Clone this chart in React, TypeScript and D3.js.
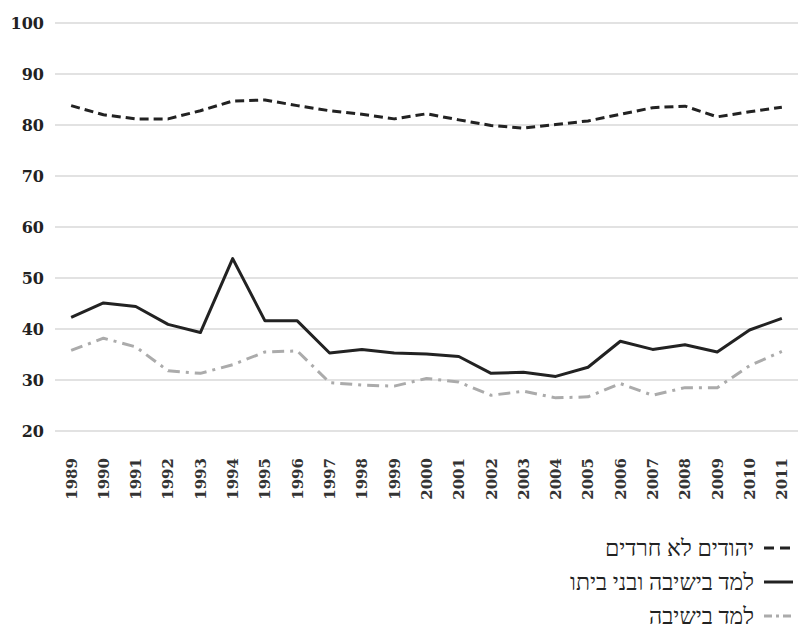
import React from "react";
import * as d3 from "d3";

const years = ["1989","1990","1991","1992","1993","1994","1995","1996","1997","1998","1999","2000","2001","2002","2003","2004","2005","2006","2007","2008","2009","2010","2011"];
const nonHaredi = [83.8,82.0,81.2,81.2,82.8,84.7,84.9,83.8,82.8,82.1,81.2,82.2,81.0,79.9,79.4,80.1,80.8,82.1,83.4,83.7,81.6,82.6,83.5];
const yeshivaAndHome = [42.3,45.1,44.4,40.9,39.3,53.8,41.6,41.6,35.3,36.0,35.3,35.1,34.6,31.3,31.5,30.7,32.5,37.6,36.0,36.9,35.5,39.8,42.1];
const yeshiva = [35.8,38.2,36.5,31.8,31.3,33.0,35.5,35.7,29.5,29.0,28.8,30.3,29.6,27.0,27.8,26.5,26.7,29.3,27.0,28.5,28.5,32.8,35.6];
const yTicks = [20,30,40,50,60,70,80,90,100];
const seriesNames = ["יהודים לא חרדים","למד בישיבה ובני ביתו","למד בישיבה"];

const W = 798, H = 632;
const NUMFONT = "'DejaVu Serif', serif";
const FONT = "'Liberation Serif', 'Times New Roman', serif";

export default function App() {
  const x = d3.scaleBand<string>().domain(years).range([55, 798]);
  const y = d3.scaleLinear().domain([20, 100]).range([431, 23]);
  const cx = (i: number) => (x(years[i]) as number) + x.bandwidth() / 2;
  const line = d3.line<number>().x((_, i) => cx(i)).y(d => y(d));

  const series = [
    { data: nonHaredi, color: "#222", dash: "9,5", width: 3 },
    { data: yeshivaAndHome, color: "#222", dash: undefined, width: 3 },
    { data: yeshiva, color: "#ababab", dash: "12,6,3,6", width: 3 },
  ];
  const legendY = [548, 582, 616];

  return (
    <svg width={W} height={H} style={{ position: "absolute", left: 0, top: 0 }} fontFamily={FONT}>
      <rect width={W} height={H} fill="#fff" />
      {yTicks.map(t => (
        <g key={t}>
          <line x1={55} x2={798} y1={y(t)} y2={y(t)} stroke="#d9d9d9" strokeWidth={1.3} />
          <text x={44} y={y(t)} dy="0.36em" textAnchor="end" fontFamily={NUMFONT} fontSize={16} fontWeight="bold" fill="#222">{t}</text>
        </g>
      ))}
      {years.map((yr, i) => (
        <text key={yr} transform={`translate(${cx(i)},458) rotate(-90)`} dy="0.36em" textAnchor="end" fontFamily={NUMFONT} fontSize={15} fontWeight="bold" fill="#333">{yr}</text>
      ))}
      {series.map((s, k) => (
        <path key={k} d={line(s.data) || ""} fill="none" stroke={s.color} strokeWidth={s.width} strokeDasharray={s.dash} strokeLinejoin="round" />
      ))}
      {seriesNames.map((n, k) => (
        <g key={n}>
          <line x1={764} x2={793} y1={legendY[k]} y2={legendY[k]} stroke={series[k].color} strokeWidth={3} strokeDasharray={k === 0 ? "10,6" : k === 2 ? "8,4,3,4" : undefined} />
          <text x={754} y={legendY[k]} dy="0.35em" textAnchor="end" fontSize={23} fill="#222">{n}</text>
        </g>
      ))}
    </svg>
  );
}
